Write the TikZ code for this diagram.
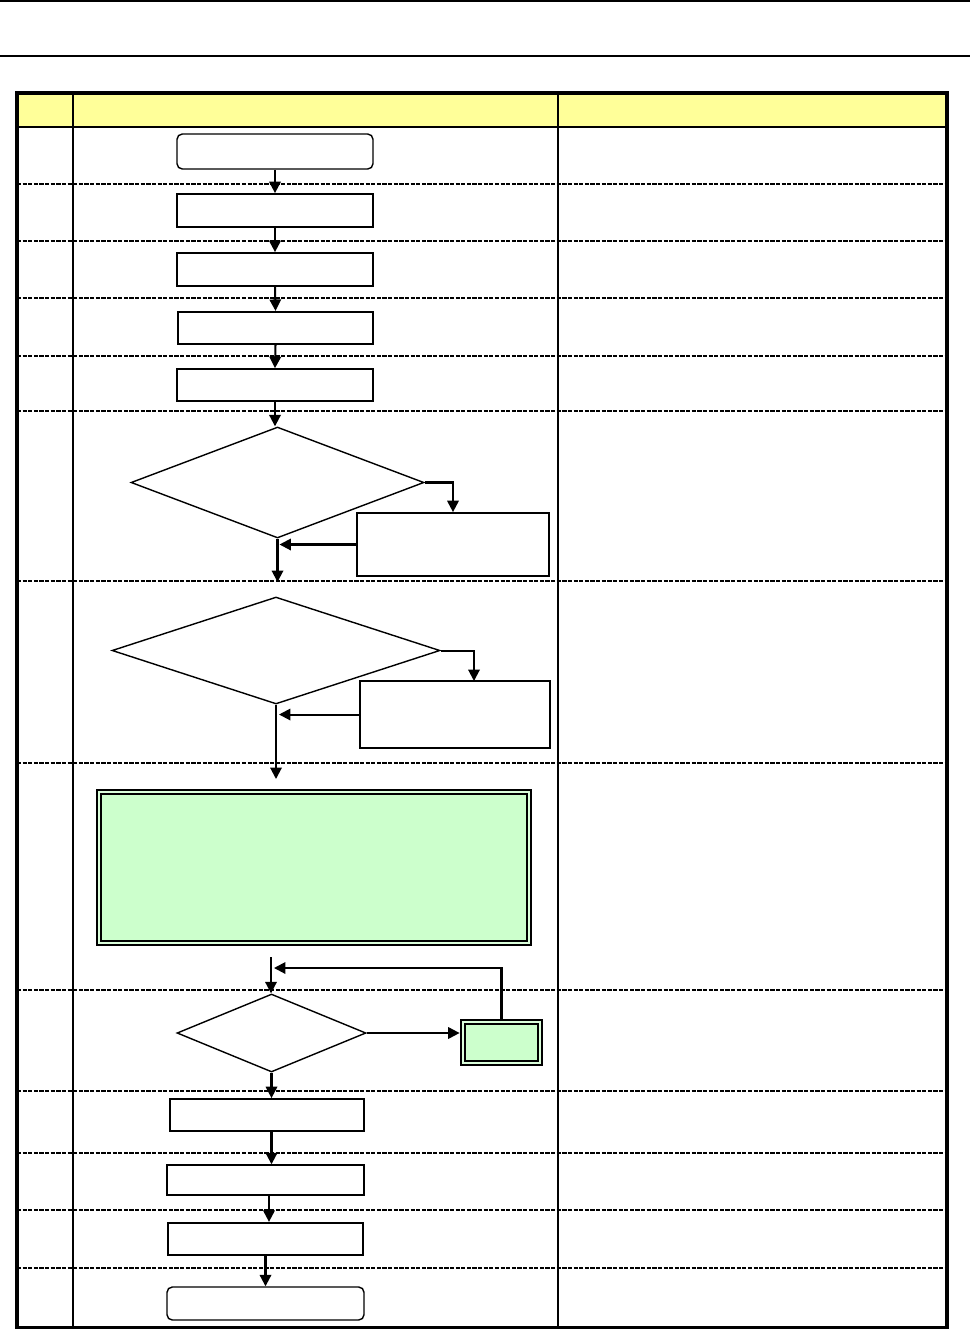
\documentclass[tikz,border=0pt]{standalone}
\usetikzlibrary{arrows.meta,shapes.geometric}
\definecolor{hdr}{HTML}{FFFF99}
\definecolor{lgreen}{HTML}{CCFFCC}
\begin{document}
\begin{tikzpicture}[x=0.02cm,y=-0.02cm,
  boxst/.style={draw,line width=1pt,inner sep=0pt,fill=white},
  roundst/.style={boxst,rounded corners=3pt,line width=0.8pt},
  decst/.style={draw,line width=0.8pt,shape=diamond,inner sep=0pt,aspect=1},
  greenst/.style={draw,fill=lgreen,line width=1pt,double=lgreen!70!white,double distance=1.2pt,inner sep=0pt},
  conn/.style={line width=1.15pt,-{Triangle[length=6.5pt,width=6.5pt]}},
  rowline/.style={line width=1.1pt,dash pattern=on 2.4pt off 0.8pt},
  rule/.style={line width=0.6pt}]
\useasboundingbox (0,0) rectangle (970,1329);
% page rules
\draw[rule] (0,1) -- (970,1);
\draw[rule] (0,56) -- (970,56);
% table
\fill[hdr] (17,93) rectangle (947,127);
\draw[line width=0.9pt] (17,127) -- (947,127);
\foreach \y in {184,241,298,356,411,581,763,990,1091,1153,1210,1268}
  \draw[rowline] (17,\y) -- (947,\y);
\draw[line width=0.9pt] (73,93) -- (73,1328);
\draw[line width=0.9pt] (558,93) -- (558,1328);
\draw[line width=2pt] (17,93) rectangle (947,1328);
% nodes
\node[roundst,minimum width=3.92cm,minimum height=0.70cm] (b1) at (275,151.5) {};
\node[boxst,minimum width=3.92cm,minimum height=0.66cm] (b2) at (275,210.5) {};
\node[boxst,minimum width=3.92cm,minimum height=0.66cm] (b3) at (275,269.5) {};
\node[boxst,minimum width=3.90cm,minimum height=0.64cm,line width=1.3pt] (b4) at (275.5,328) {};
\node[boxst,minimum width=3.92cm,minimum height=0.64cm] (b5) at (275,385) {};
\node[decst,minimum width=5.86cm,minimum height=2.22cm] (d1) at (277.5,482.5) {};
\node[boxst,minimum width=3.84cm,minimum height=1.26cm] (bA) at (453,544.5) {};
\node[decst,minimum width=6.56cm,minimum height=2.14cm] (d2) at (276,650.5) {};
\node[boxst,minimum width=3.80cm,minimum height=1.34cm] (bB) at (455,714.5) {};
\node[greenst,minimum width=8.6cm,minimum height=3.02cm] (g) at (314,867.5) {};
\node[decst,minimum width=3.78cm,minimum height=1.56cm] (d3) at (271.5,1033) {};
\node[greenst,minimum width=1.54cm,minimum height=0.82cm] (sg) at (501.5,1042.5) {};
\node[boxst,minimum width=3.88cm,minimum height=0.64cm] (b10) at (267,1115) {};
\node[boxst,minimum width=3.94cm,minimum height=0.60cm,line width=0.8pt] (b11) at (265.5,1180) {};
\node[boxst,minimum width=3.90cm,minimum height=0.64cm,line width=1.3pt] (b12) at (265.5,1239) {};
\node[roundst,minimum width=3.94cm,minimum height=0.66cm] (b13) at (265.5,1303.5) {};
% free ends
\coordinate (c1) at (278,582);
\coordinate (c2) at (276,779);
\coordinate (c3) at (271,957);
\coordinate (c4) at (274,968);
\coordinate (bBin) at (474,681);
% connectors
\draw[conn] (b1.south) -- (b2.north);
\draw[conn] (b2.south) -- (b3.north);
\draw[conn] (b3.south) -- (b4.north);
\draw[conn] (b4.south) -- (b5.north);
\draw[conn] (b5.south) -- (b5.south |- d1.north);
\draw[conn] (d1.east) -| (bA.north);
\draw[conn] (bA.west) -- ([xshift=0.04cm]bA.west -| d1.south);
\draw[conn] (d1.south) -- (d1.south |- c1);
\draw[conn] (d2.east) -| (bBin);
\draw[conn] (bB.west) -- ([xshift=0.06cm]bB.west -| d2.south);
\draw[conn] (d2.south) -- (c2);
\draw[conn] (c3) -- (c3 |- d3.north);
\draw[conn] (sg.north) |- (c4);
\draw[conn] (d3.east) -- ([xshift=-0.05cm]d3.east -| sg.west);
\draw[conn] (d3.south) -- (d3.south |- b10.north);
\draw[conn] (b10.south -| d3.south) -- (b11.north -| d3.south);
\draw[conn] ([xshift=0.07cm]b11.south) -- ([xshift=0.07cm]b12.north);
\draw[conn] (b12.south) -- (b13.north);
\end{tikzpicture}
\end{document}
